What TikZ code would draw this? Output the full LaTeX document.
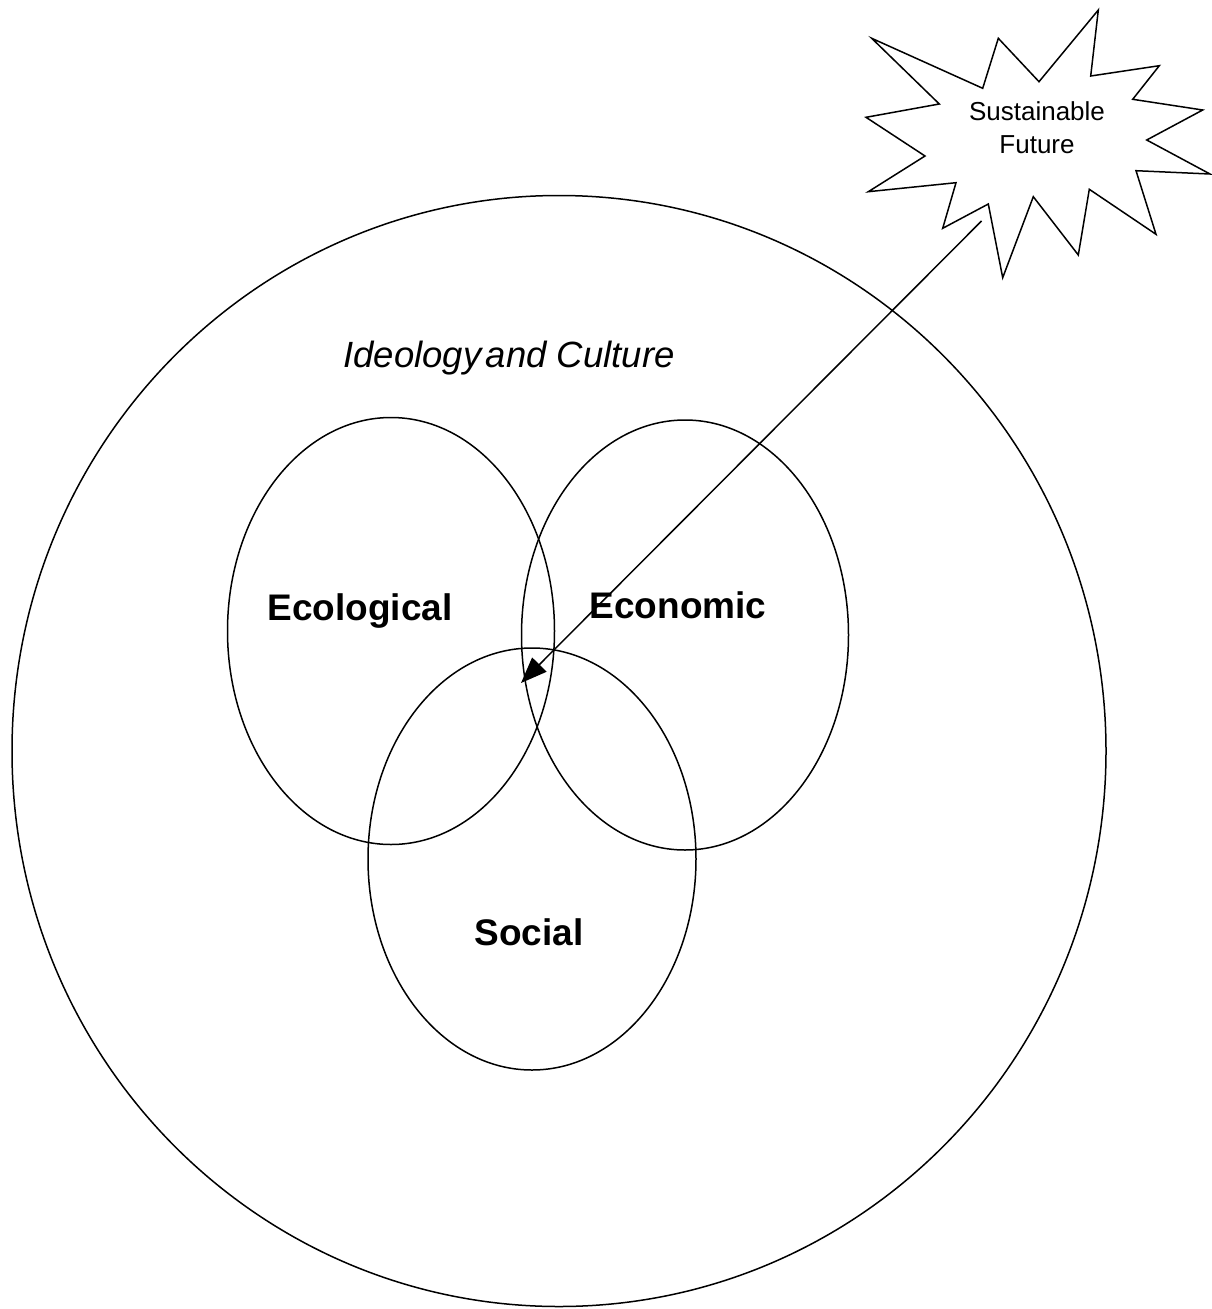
\documentclass[tikz,border=0pt]{standalone}
\usepackage{fontspec}
\setmainfont{Liberation Sans}
\usetikzlibrary{arrows.meta,shapes.geometric}
\begin{document}
\begin{tikzpicture}[x=1pt,y=-1pt,
  ring/.style={draw,ellipse,line width=1.5pt,inner sep=0pt},
  setlabel/.style={font=\fontsize{37}{44}\selectfont\bfseries,anchor=base,inner sep=0pt},
  burst/.style={draw,line width=1.5pt,line join=miter,fill=white},
  link/.style={line width=1.5pt,-{Triangle[length=26pt,width=20pt]}}]
\useasboundingbox (0,0) rectangle (1211,1309);
% outer world
\node[ring,minimum width=1094pt,minimum height=1111pt] (world) at (559,751) {};
\node[anchor=base,inner sep=0pt,font=\fontsize{36.5}{44}\selectfont\itshape] (ideo) at (509,367) {Ideology\hspace{-0.15em} and Culture};
% three spheres
\node[ring,minimum width=327pt,minimum height=427pt] (eco) at (391,631) {};
\node[ring,minimum width=327pt,minimum height=430pt] (econ) at (685,635) {};
\node[ring,minimum width=328pt,minimum height=422pt] (soc) at (532,859) {};
\node[setlabel] (ecol) at (360,620) {Ecological};
\node[setlabel] (econl) at (678,618) {Economic};
\node[setlabel] (socl) at (529,945) {Social};
% starburst
\draw[burst] (871.7,38.3) -- (982.7,88.3) -- (998.3,38.3) -- (1039,81.7) -- (1098.3,10)
  -- (1090.7,76) -- (1159.3,65.7) -- (1132.7,99.3) -- (1202.7,110) -- (1146.7,140)
  -- (1210,174) -- (1136,170.7) -- (1156,234.3) -- (1089.3,189.3) -- (1078.3,255)
  -- (1033.3,196.7) -- (1002.7,277.7) -- (988.3,204) -- (942.7,228.3) -- (956,182.7)
  -- (868.3,191.7) -- (925,156) -- (866,117.3) -- (939.3,104) -- cycle;
\node[align=center,inner sep=0pt,font=\fontsize{26}{32.6}\selectfont] (sf) at (1037,128) {Sustainable\\Future};
% arrow
\coordinate (from) at (981.5,221);
\coordinate (tip) at (521,683);
\draw[link] (from) -- (tip);
\end{tikzpicture}
\end{document}
